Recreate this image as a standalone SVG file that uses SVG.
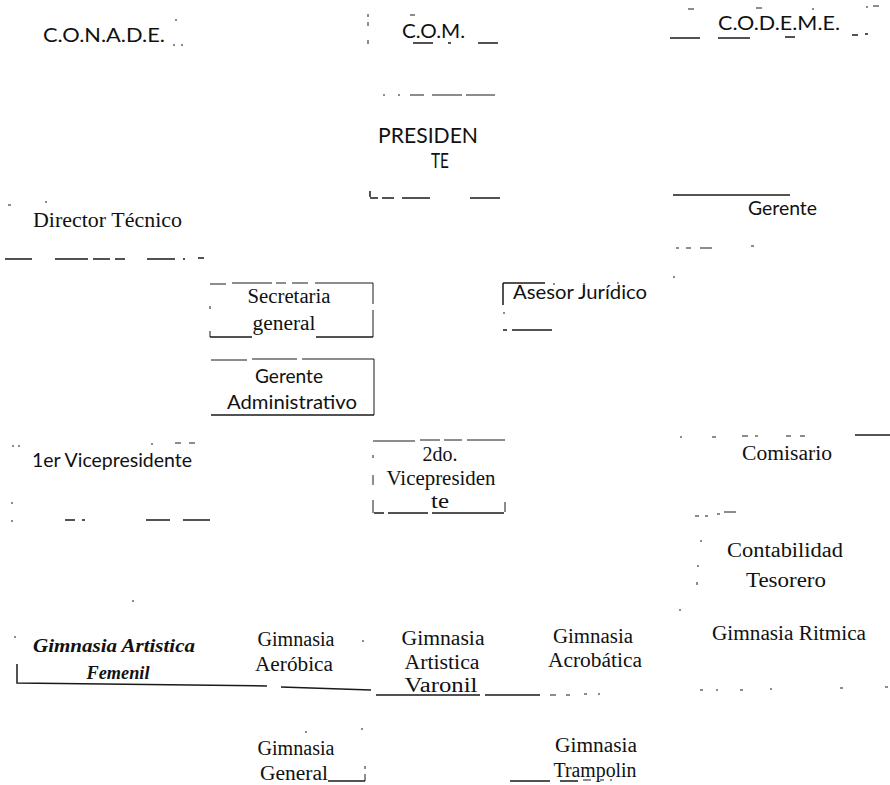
<svg xmlns="http://www.w3.org/2000/svg" width="890" height="785" viewBox="0 0 890 785">
<style>
.s{font-family:"Liberation Serif","Times New Roman",serif;font-size:20px;fill:#111}
.o{font-family:"Lato","Noto Sans","Liberation Sans",sans-serif;font-size:19px;fill:#111}
.bi{font-family:"Liberation Serif","Times New Roman",serif;font-size:19px;font-weight:bold;font-style:italic;fill:#111}
.m{text-anchor:middle}
.ln{stroke:#1a1a1a;stroke-width:1.5;fill:none}
.th{stroke:#1a1a1a;stroke-width:1;fill:none}
</style>
<rect width="890" height="785" fill="#fff"/>

<g id="conade">
<text class="o" x="43" y="42" textLength="122" lengthAdjust="spacingAndGlyphs">C.O.N.A.D.E.</text>
<path class="th" d="M176 19v2M173 45h2M181 45h2"/>
</g>

<g id="com">
<text class="o" x="402" y="38" textLength="63" lengthAdjust="spacingAndGlyphs">C.O.M.</text>
<path class="th" d="M368 14v3M368 22v4M368 40v4M410 15h5"/>
<path class="ln" d="M413 43h20M448 43h3M478 43h20"/>
</g>

<g id="codeme">
<text class="o" x="718" y="30" textLength="122" lengthAdjust="spacingAndGlyphs">C.O.D.E.M.E.</text>
<path class="th" d="M688 9h6M756 8h6M812 9h2M866 7h2M873 6h6"/>
<path class="ln" d="M670 38h30M718 38h32M785 37h10M852 35h6M865 34h3"/>
</g>

<g id="presidente">
<text class="o" x="378" y="143" textLength="100" lengthAdjust="spacingAndGlyphs" style="font-size:21px">PRESIDEN</text>
<text class="o" x="431" y="168" textLength="18" lengthAdjust="spacingAndGlyphs" style="font-size:21px">TE</text>
<path class="th" d="M383 95h2M398 95h2M410 95h14M432 95h30M466 95h29"/>
<path class="ln" d="M370 198h8M382 198h12M402 198h28M470 198h30M370 191v6"/>
</g>

<g id="director">
<text class="s" x="33" y="227" textLength="149" lengthAdjust="spacingAndGlyphs">Director Técnico</text>
<path class="th" d="M8 205h3M45 202h2"/>
<path class="ln" d="M5 259h27M55 259h33M93 259h17M115 259h10M147 259h28M183 259h2M198 258h6"/>
</g>

<g id="gerente">
<text class="o" x="748" y="215" textLength="69" lengthAdjust="spacingAndGlyphs">Gerente</text>
<path class="ln" d="M673 195h117"/>
<path class="th" d="M676 248h3M686 248h5M700 248h12M751 246h3M673 277h2"/>
</g>

<g id="secretaria">
<text class="s m" x="289" y="303" textLength="83" lengthAdjust="spacingAndGlyphs">Secretaria</text>
<text class="s m" x="284" y="330" textLength="63" lengthAdjust="spacingAndGlyphs">general</text>
<path class="th" d="M210 284h16M232 283h40M276 283h10M292 283h16M315 283h58M373 283v21M373 310v27M210 306v3M210 331v6"/>
<path class="ln" d="M210 337h42M316 337h57"/>
</g>

<g id="gerente-adm">
<text class="o m" x="289" y="383" textLength="68" lengthAdjust="spacingAndGlyphs">Gerente</text>
<text class="o m" x="292" y="409" textLength="130" lengthAdjust="spacingAndGlyphs">Administrativo</text>
<path class="th" d="M211 360h36M252 359h45M302 359h72M374 359v56"/>
<path class="ln" d="M211 415h163"/>
</g>

<g id="asesor">
<text class="o" x="513" y="299" textLength="134" lengthAdjust="spacingAndGlyphs">Asesor Jurídico</text>
<path class="ln" d="M503 283v22M503 283h42M503 330h4M512 330h40"/>
<path class="th" d="M553 284h2M583 284h2M617 283h2M504 312v2"/>
</g>

<g id="vp1">
<text class="o" x="32" y="467" textLength="160" lengthAdjust="spacingAndGlyphs">1er Vicepresidente</text>
<path class="th" d="M12 446h2M18 446h2M151 444h2M175 443h6M189 443h6M12 502v2M12 520v2"/>
<path class="ln" d="M65 520h10M82 520h3M146 520h24M183 520h27"/>
</g>

<g id="vp2">
<text class="s m" x="440" y="461" textLength="35" lengthAdjust="spacingAndGlyphs">2do.</text>
<text class="s m" x="441" y="485" textLength="109" lengthAdjust="spacingAndGlyphs">Vicepresiden</text>
<text class="s m" x="440" y="508" textLength="18" lengthAdjust="spacingAndGlyphs">te</text>
<path class="th" d="M373 441h42M420 440h20M444 440h18M467 440h38M373 455v3M373 475v10M373 500v13M505 502v10"/>
<path class="ln" d="M374 513h10M388 513h40M432 513h72"/>
</g>

<g id="comisario">
<text class="s" x="742" y="460" textLength="90" lengthAdjust="spacingAndGlyphs">Comisario</text>
<path class="th" d="M680 437h2M712 437h4M742 436h6M755 436h3M786 436h5M800 436h5"/>
<path class="ln" d="M855 435h35"/>
</g>

<g id="contabilidad">
<text class="s" x="727" y="557" textLength="116" lengthAdjust="spacingAndGlyphs">Contabilidad</text>
<text class="s" x="746" y="587" textLength="80" lengthAdjust="spacingAndGlyphs">Tesorero</text>
<path class="th" d="M695 516h4M705 516h3M717 514h3M724 512h12M701 540v2M698 565v2M697 582v3"/>
</g>

<g id="g-femenil">
<text class="bi m" x="114" y="652" textLength="162" lengthAdjust="spacingAndGlyphs">Gimnasia Artistica</text>
<text class="bi m" x="118" y="679" textLength="63" lengthAdjust="spacingAndGlyphs">Femenil</text>
<path class="th" d="M133 600v2M15 636v2"/>
</g>

<g id="g-aerobica">
<text class="s m" x="296" y="646" textLength="77" lengthAdjust="spacingAndGlyphs">Gimnasia</text>
<text class="s m" x="294" y="671" textLength="78" lengthAdjust="spacingAndGlyphs">Aeróbica</text>
</g>

<g id="g-varonil">
<text class="s m" x="443" y="645" textLength="83" lengthAdjust="spacingAndGlyphs">Gimnasia</text>
<text class="s m" x="442" y="669" textLength="75" lengthAdjust="spacingAndGlyphs">Artistica</text>
<text class="s m" x="441" y="692" textLength="73" lengthAdjust="spacingAndGlyphs">Varonil</text>
<path class="th" d="M362 641h2"/>
</g>

<g id="g-acrobatica">
<text class="s m" x="593" y="643" textLength="80" lengthAdjust="spacingAndGlyphs">Gimnasia</text>
<text class="s m" x="595" y="667" textLength="94" lengthAdjust="spacingAndGlyphs">Acrobática</text>
<path class="th" d="M680 609v2"/>
</g>

<g id="g-ritmica">
<text class="s" x="712" y="640" textLength="154" lengthAdjust="spacingAndGlyphs">Gimnasia Ritmica</text>
</g>

<g id="g-general">
<text class="s m" x="296" y="755" textLength="77" lengthAdjust="spacingAndGlyphs">Gimnasia</text>
<text class="s m" x="294" y="780" textLength="68" lengthAdjust="spacingAndGlyphs">General</text>
<path class="th" d="M306 731v2M362 728v2M365 766v3M365 774v7"/>
<path class="ln" d="M328 781h37"/>
</g>

<g id="g-trampolin">
<text class="s m" x="596" y="752" textLength="82" lengthAdjust="spacingAndGlyphs">Gimnasia</text>
<text class="s m" x="595" y="777" textLength="83" lengthAdjust="spacingAndGlyphs">Trampolin</text>
<path class="ln" d="M510 781h40M560 781h18"/>
<path class="th" d="M583 780h8M600 780h4M610 780h2"/>
</g>

<g id="connectors">
<path class="ln" d="M17 664v19L267 686M281 687L371 690M376 695L480 695M485 695L540 695"/>
<path class="th" d="M550 695h6M566 695h4M584 694h3M598 694h2M700 690h3M716 690h2M740 690h3M770 689h2M840 688h3M885 687h3"/>
</g>
</svg>
